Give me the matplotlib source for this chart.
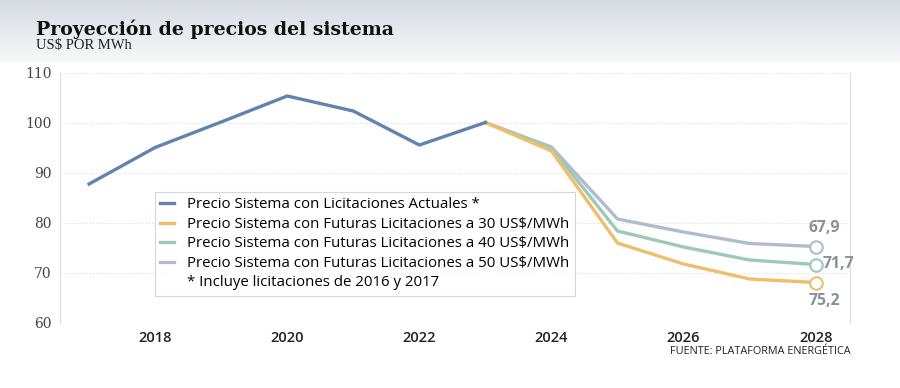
import numpy as np
import matplotlib.pyplot as plt
from matplotlib.lines import Line2D

# datos (US$ por MWh)
years_act = [2017, 2018, 2019, 2020, 2021, 2022, 2023]
precio_act = [87.8, 95.1, 100.2, 105.4, 102.4, 95.6, 100.1]

years_fut = [2023, 2024, 2025, 2026, 2027, 2028]
precio_30 = [100.1, 94.4, 76.0, 71.8, 68.8, 68.1]
precio_40 = [100.1, 95.0, 78.4, 75.2, 72.6, 71.7]
precio_50 = [100.1, 95.2, 80.8, 78.2, 75.9, 75.3]

end_labels = ['67,9', '71,7', '75,2']

labels_legend = ['Precio Sistema con Licitaciones Actuales *',
                 'Precio Sistema con Futuras Licitaciones a 30 US$/MWh',
                 'Precio Sistema con Futuras Licitaciones a 40 US$/MWh',
                 'Precio Sistema con Futuras Licitaciones a 50 US$/MWh',
                 '* Incluye licitaciones de 2016 y 2017']

c_act = '#6283b0'
c_30 = '#f2bd6b'
c_40 = '#9dcab8'
c_50 = '#b0bccb'
c_lbl = '#8a9099'

fig = plt.figure(figsize=(9, 3.88), dpi=100)

# ---------------- cabecera con degradado ----------------
hdr = fig.add_axes([0, 1 - 62 / 388, 1, 62 / 388])
grad = np.linspace(0, 1, 100).reshape(-1, 1)
hdr.imshow(grad, aspect='auto', cmap=plt.matplotlib.colors.LinearSegmentedColormap.from_list(
    'g', ['#d6dbe2', '#f7f8fa']), extent=[0, 1, 0, 1], origin='upper')
hdr.axis('off')

fig.text(36 / 900, 1 - 29 / 388, 'Proyección de precios del sistema', fontsize=13.6,
         fontweight='bold', family='DejaVu Serif', va='center', color='#111111')
fig.text(36 / 900, 1 - 45 / 388, 'US$ POR MWh', fontsize=10.5, family='Liberation Serif',
         va='center', color='#222222')

# ---------------- grafico ----------------
ax = fig.add_axes([60 / 900, 1 - 323 / 388, 790 / 900, 250 / 388])
lw = 2.4
ax.plot(years_fut, precio_50, color=c_50, lw=lw, zorder=3)
ax.plot(years_fut, precio_40, color=c_40, lw=lw, zorder=4)
ax.plot(years_fut, precio_30, color=c_30, lw=lw, zorder=5)
ax.plot(years_act, precio_act, color=c_act, lw=lw, zorder=6)

for vals, col in [(precio_50, c_50), (precio_40, c_40), (precio_30, c_30)]:
    ax.plot(years_fut[-1], vals[-1], 'o', ms=9, mfc='white', mec=col, mew=1.5, zorder=7)

ax.annotate(end_labels[0], (years_fut[-1], precio_50[-1]), xytext=(6, 13.5),
            textcoords='offset points', ha='center', va='center', fontsize=11.3,
            fontweight='bold', color=c_lbl, family='Open Sans')
ax.annotate(end_labels[1], (years_fut[-1], precio_40[-1]), xytext=(5, 0),
            textcoords='offset points', ha='left', va='center', fontsize=11.3,
            fontweight='bold', color=c_lbl, family='Open Sans')
ax.annotate(end_labels[2], (years_fut[-1], precio_30[-1]), xytext=(6.5, -13.5),
            textcoords='offset points', ha='center', va='center', fontsize=11.3,
            fontweight='bold', color=c_lbl, family='Open Sans')

ax.set_xlim(2016.56, 2028.52)
ax.set_ylim(60, 110)
ax.set_yticks([60, 70, 80, 90, 100, 110])
ax.set_xticks([2018, 2020, 2022, 2024, 2026, 2028])
ax.grid(axis='y', color='#dddddd', ls=':', lw=0.8)
ax.set_axisbelow(True)
for s in ['top', 'bottom']:
    ax.spines[s].set_visible(False)
for s in ['left', 'right']:
    ax.spines[s].set_color('#dddddd')
    ax.spines[s].set_linewidth(0.8)
ax.tick_params(length=0, pad=6)
for t in ax.get_yticklabels():
    t.set_family('DejaVu Serif')
    t.set_fontsize(10)
    t.set_color('#444444')
for t in ax.get_xticklabels():
    t.set_family('Open Sans')
    t.set_fontsize(10.5)
    t.set_fontweight('semibold')
    t.set_color('#222222')

handles = [Line2D([], [], color=c, lw=2.4) for c in [c_act, c_30, c_40, c_50]]
handles.append(Line2D([], [], color='none'))
leg = ax.legend(handles, labels_legend, loc='upper left', bbox_to_anchor=(95 / 790, 131 / 250),
                frameon=True, fancybox=False, handlelength=0.9, handletextpad=0.9,
                labelspacing=0.3, borderpad=0.35, borderaxespad=0,
                prop={'family': 'Open Sans', 'size': 10.8})
leg.get_frame().set_edgecolor('#cccccc')
leg.get_frame().set_linewidth(0.8)
leg.set_zorder(10)

fig.text(851 / 900, 1 - 352 / 388, 'FUENTE: PLATAFORMA ENERGÉTICA', ha='right', va='center',
         fontsize=7.8, family='Open Sans', color='#222222')

fig.savefig('out.png', dpi=100)
